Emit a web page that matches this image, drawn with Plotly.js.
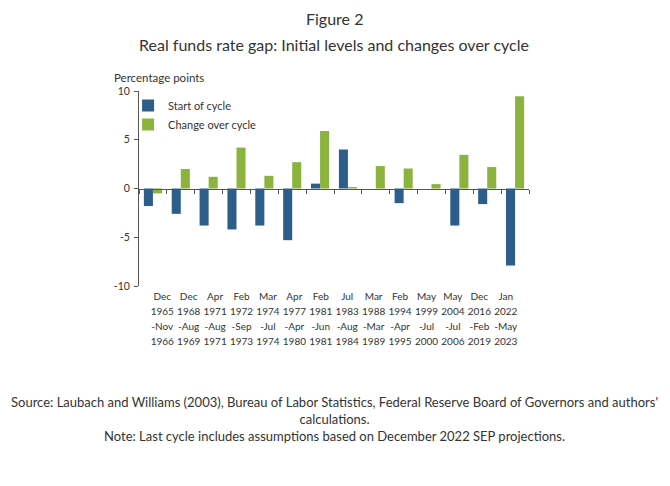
<!DOCTYPE html>
<html>
<head>
<meta charset="utf-8">
<script src="https://cdn.plot.ly/plotly-3.0.1.min.js"></script>
<style>html,body{margin:0;padding:0;background:#fff;}#chart{width:670px;height:486px;}</style>
</head>
<body>
<div id="chart"></div>
<script>
const cycleLabels = [
  "Dec<br>1965<br>-Nov<br>1966",
  "Dec<br>1968<br>-Aug<br>1969",
  "Apr<br>1971<br>-Aug<br>1971",
  "Feb<br>1972<br>-Sep<br>1973",
  "Mar<br>1974<br>-Jul<br>1974",
  "Apr<br>1977<br>-Apr<br>1980",
  "Feb<br>1981<br>-Jun<br>1981",
  "Jul<br>1983<br>-Aug<br>1984",
  "Mar<br>1988<br>-Mar<br>1989",
  "Feb<br>1994<br>-Apr<br>1995",
  "May<br>1999<br>-Jul<br>2000",
  "May<br>2004<br>-Jul<br>2006",
  "Dec<br>2016<br>-Feb<br>2019",
  "Jan<br>2022<br>-May<br>2023"
];
const startOfCycle = [-1.8, -2.6, -3.8, -4.2, -3.8, -5.3, 0.5, 4.0, 0.0, -1.5, 0.0, -3.8, -1.6, -7.9];
const changeOverCycle = [-0.5, 2.0, 1.2, 4.2, 1.3, 2.7, 5.9, 0.15, 2.3, 2.05, 0.45, 3.45, 2.2, 9.45];
const yTicks = [-10, -5, 0, 5, 10];

const FONT = "Lato, 'Noto Sans', sans-serif";
const TXT = "#333333";

// smaller glyphs, but keep the line spacing of the larger base font
const tickText = cycleLabels.map(s => s.split("<br>").map(p => '<span style="font-size:10px">' + p + '</span>').join("<br>"));

const data = [
  {type: "bar", name: "Start of cycle", x: cycleLabels, y: startOfCycle,
   marker: {color: "#2d5e8b", line: {width: 0}}, xaxis: "x", yaxis: "y", hoverinfo: "skip"},
  {type: "bar", name: "Change over cycle", x: cycleLabels, y: changeOverCycle,
   marker: {color: "#8bb33e", line: {width: 0}}, xaxis: "x", yaxis: "y", hoverinfo: "skip"},
  {type: "scatter", mode: "markers", x: cycleLabels, y: cycleLabels.map(() => null),
   xaxis: "x2", yaxis: "y", showlegend: false, hoverinfo: "skip", marker: {opacity: 0}}
];

const layout = {
  width: 670, height: 486,
  paper_bgcolor: "#ffffff", plot_bgcolor: "#ffffff",
  font: {family: FONT, color: TXT, size: 11},
  margin: {l: 139, r: 141, t: 91, b: 200},
  barmode: "group", bargap: 0.35, bargroupgap: 0,
  showlegend: true,
  legend: {x: -0.028, y: 1.0, xanchor: "left", yanchor: "top", bgcolor: "rgba(0,0,0,0)",
           font: {family: FONT, size: 11, color: TXT}, tracegroupgap: 0, itemwidth: 30},
  xaxis: {type: "category", anchor: "free", position: 0.5, showline: true, linecolor: "#555555", linewidth: 1,
          ticks: "outside", tickson: "boundaries", ticklen: 4, tickcolor: "#555555",
          showticklabels: false, showgrid: false, zeroline: false, fixedrange: true},
  xaxis2: {type: "category", overlaying: "x", anchor: "y", side: "bottom", showline: false, ticks: "",
           tickangle: 0, showgrid: false, zeroline: false, tickfont: {family: FONT, size: 11.4, color: TXT},
           tickvals: cycleLabels, ticktext: tickText, ticklabelstandoff: 2,
           categoryorder: "array", categoryarray: cycleLabels, fixedrange: true},
  yaxis: {range: [-10, 10], tickvals: yTicks, ticktext: yTicks.map(String), showline: true,
          linecolor: "#555555", linewidth: 1, ticks: "outside", ticklen: 4, tickcolor: "#555555",
          ticklabelstandoff: 2,
          showgrid: false, zeroline: false, tickfont: {family: FONT, size: 10.5, color: TXT}, fixedrange: true},
  annotations: [
    {text: "Figure 2", xref: "paper", yref: "paper", x: 0.5, y: 1.374, xanchor: "center", yanchor: "middle",
     showarrow: false, font: {family: FONT, size: 16, color: TXT}},
    {text: "Real funds rate gap: Initial levels and changes over cycle", xref: "paper", yref: "paper",
     x: 0.5, y: 1.241, xanchor: "center", yanchor: "middle",
     showarrow: false, font: {family: FONT, size: 16, color: TXT}},
    {text: "Percentage points", xref: "paper", yref: "paper", x: -0.068, y: 1.025, xanchor: "left", yanchor: "bottom",
     showarrow: false, font: {family: FONT, size: 11.5, color: TXT}},
    {text: "Source: Laubach and Williams (2003), Bureau of Labor Statistics, Federal Reserve Board of Governors and authors'<br>calculations.<br>Note: Last cycle includes assumptions based on December 2022 SEP projections.",
     xref: "paper", yref: "paper", x: 0.5, y: -0.545, xanchor: "center", yanchor: "top", align: "center",
     showarrow: false, font: {family: FONT, size: 13, color: TXT}}
  ]
};

Plotly.newPlot("chart", data, layout, {displayModeBar: false, staticPlot: true});
</script>
</body>
</html>
